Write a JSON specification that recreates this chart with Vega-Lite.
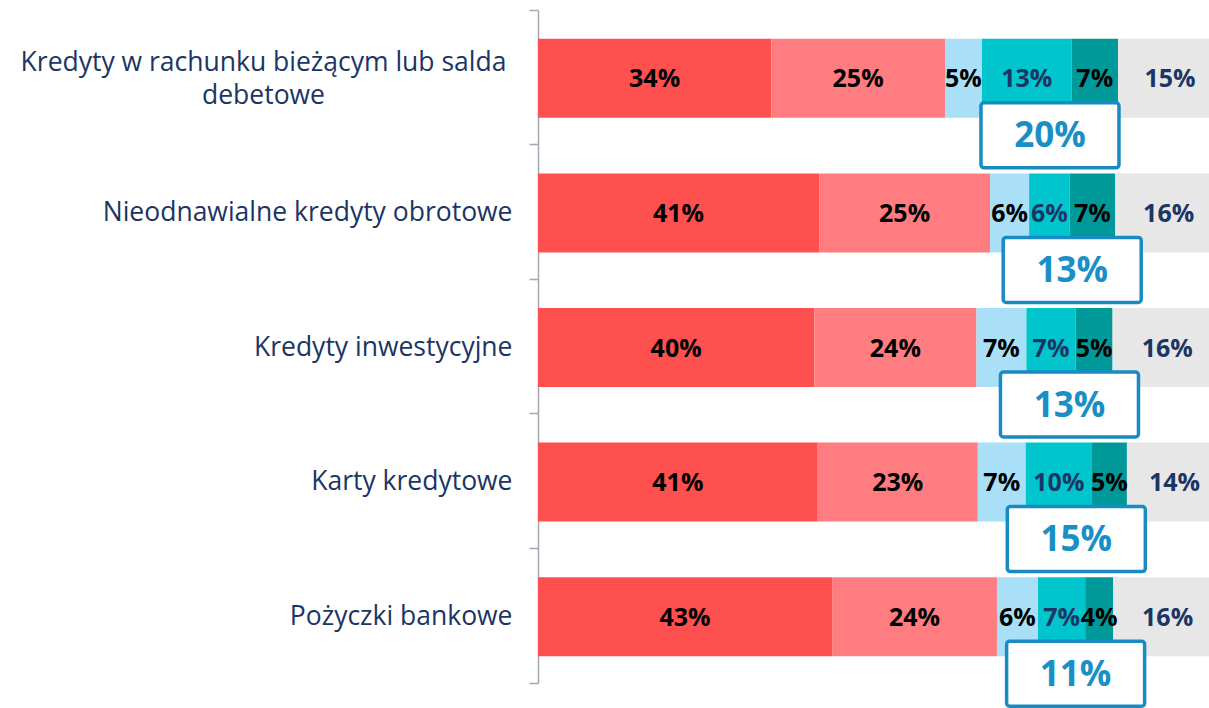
{
  "$schema": "https://vega.github.io/schema/vega-lite/v6.json",
  "width": 671,
  "height": 673,
  "autosize": "none",
  "padding": {"left": 538, "top": 10, "right": 0, "bottom": 25},
  "background": "white",
  "config": {"view": {"stroke": null}, "font": "Open Sans"},
  "data": {
    "values": [
      {"category": "Kredyty w rachunku bieżącym lub salda debetowe", "seg": "s1", "order": 1, "share": 0.341},
      {"category": "Kredyty w rachunku bieżącym lub salda debetowe", "seg": "s2", "order": 2, "share": 0.254},
      {"category": "Kredyty w rachunku bieżącym lub salda debetowe", "seg": "s3", "order": 3, "share": 0.054},
      {"category": "Kredyty w rachunku bieżącym lub salda debetowe", "seg": "s4", "order": 4, "share": 0.131},
      {"category": "Kredyty w rachunku bieżącym lub salda debetowe", "seg": "s5", "order": 5, "share": 0.068},
      {"category": "Kredyty w rachunku bieżącym lub salda debetowe", "seg": "s6", "order": 6, "share": 0.152},
      {"category": "Nieodnawialne kredyty obrotowe", "seg": "s1", "order": 1, "share": 0.411},
      {"category": "Nieodnawialne kredyty obrotowe", "seg": "s2", "order": 2, "share": 0.250},
      {"category": "Nieodnawialne kredyty obrotowe", "seg": "s3", "order": 3, "share": 0.057},
      {"category": "Nieodnawialne kredyty obrotowe", "seg": "s4", "order": 4, "share": 0.059},
      {"category": "Nieodnawialne kredyty obrotowe", "seg": "s5", "order": 5, "share": 0.067},
      {"category": "Nieodnawialne kredyty obrotowe", "seg": "s6", "order": 6, "share": 0.156},
      {"category": "Kredyty inwestycyjne", "seg": "s1", "order": 1, "share": 0.404},
      {"category": "Kredyty inwestycyjne", "seg": "s2", "order": 2, "share": 0.237},
      {"category": "Kredyty inwestycyjne", "seg": "s3", "order": 3, "share": 0.073},
      {"category": "Kredyty inwestycyjne", "seg": "s4", "order": 4, "share": 0.072},
      {"category": "Kredyty inwestycyjne", "seg": "s5", "order": 5, "share": 0.054},
      {"category": "Kredyty inwestycyjne", "seg": "s6", "order": 6, "share": 0.160},
      {"category": "Karty kredytowe", "seg": "s1", "order": 1, "share": 0.409},
      {"category": "Karty kredytowe", "seg": "s2", "order": 2, "share": 0.234},
      {"category": "Karty kredytowe", "seg": "s3", "order": 3, "share": 0.070},
      {"category": "Karty kredytowe", "seg": "s4", "order": 4, "share": 0.097},
      {"category": "Karty kredytowe", "seg": "s5", "order": 5, "share": 0.051},
      {"category": "Karty kredytowe", "seg": "s6", "order": 6, "share": 0.139},
      {"category": "Pożyczki bankowe", "seg": "s1", "order": 1, "share": 0.430},
      {"category": "Pożyczki bankowe", "seg": "s2", "order": 2, "share": 0.241},
      {"category": "Pożyczki bankowe", "seg": "s3", "order": 3, "share": 0.060},
      {"category": "Pożyczki bankowe", "seg": "s4", "order": 4, "share": 0.069},
      {"category": "Pożyczki bankowe", "seg": "s5", "order": 5, "share": 0.041},
      {"category": "Pożyczki bankowe", "seg": "s6", "order": 6, "share": 0.159}
    ]
  },
  "transform": [
    {"stack": "share", "groupby": ["category"], "sort": [{"field": "order", "order": "ascending"}], "as": ["s", "e"]}
  ],
  "encoding": {
    "y": {
      "field": "category",
      "type": "nominal",
      "sort": ["Kredyty w rachunku bieżącym lub salda debetowe", "Nieodnawialne kredyty obrotowe", "Kredyty inwestycyjne", "Karty kredytowe", "Pożyczki bankowe"],
      "scale": {"paddingInner": 0, "paddingOuter": 0},
      "axis": {
        "title": null,
        "bandPosition": 1,
        "tickExtra": true,
        "labelOffset": {"condition": {"test": "datum.value == 'Kredyty w rachunku bieżącym lub salda debetowe'", "value": -14}, "value": 1},
        "tickSize": 9,
        "tickWidth": 1.5,
        "domainWidth": 1.5,
        "tickColor": "#a6a6b0",
        "domainColor": "#a6a6b0",
        "labelFontSize": 26.5,
        "labelColor": "#1b3564",
        "labelPadding": {"condition": {"test": "datum.value == 'Kredyty w rachunku bieżącym lub salda debetowe'", "value": 266}, "value": 17},
        "labelAlign": {"condition": {"test": "datum.value == 'Kredyty w rachunku bieżącym lub salda debetowe'", "value": "center"}, "value": "right"},
        "labelLimit": 700,
        "labelLineHeight": 33,
        "labelExpr": "datum.value == 'Kredyty w rachunku bieżącym lub salda debetowe' ? ['Kredyty w rachunku bieżącym lub salda', 'debetowe'] : datum.value"
      }
    }
  },
  "layer": [
    {
      "mark": {"type": "bar", "height": 79, "yOffset": 1},
      "encoding": {
        "x": {"field": "s", "type": "quantitative", "scale": {"domain": [0, 0.981], "nice": false, "zero": true}, "axis": null},
        "x2": {"field": "e"},
        "color": {
          "field": "seg",
          "type": "nominal",
          "scale": {"domain": ["s1", "s2", "s3", "s4", "s5", "s6"], "range": ["#ff5050", "#ff7c80", "#a9e0f8", "#00c5cd", "#009999", "#e7e7e7"]},
          "legend": null
        }
      }
    },
    {
      "transform": [
        {"filter": "datum.seg != 's4' && datum.seg != 's6'"},
        {"fold": ["s", "e"], "as": ["k", "pos"]}
      ],
      "mark": {"type": "text", "fontSize": 25, "fontWeight": "bold", "color": "#000000", "baseline": "middle", "align": "center", "yOffset": 2},
      "encoding": {
        "x": {"aggregate": "mean", "field": "pos", "type": "quantitative"},
        "text": {"field": "share", "type": "quantitative", "format": ".0%"},
        "detail": {"field": "seg"}
      }
    },
    {
      "transform": [
        {"filter": "datum.seg == 's4' || datum.seg == 's6'"},
        {"fold": ["s", "e"], "as": ["k", "pos"]}
      ],
      "mark": {"type": "text", "fontSize": 25, "fontWeight": "bold", "color": "#1b3564", "baseline": "middle", "align": "center", "yOffset": 2},
      "encoding": {
        "x": {"aggregate": "mean", "field": "pos", "type": "quantitative"},
        "text": {"field": "share", "type": "quantitative", "format": ".0%"},
        "detail": {"field": "seg"}
      }
    },
    {
      "transform": [
        {"filter": "datum.seg == 's4' || datum.seg == 's5'"},
        {"aggregate": [
          {"op": "min", "field": "s", "as": "lo"},
          {"op": "max", "field": "e", "as": "hi"},
          {"op": "sum", "field": "share", "as": "total"}
        ], "groupby": ["category"]},
        {"fold": ["lo", "hi"], "as": ["k", "pos"]}
      ],
      "layer": [
        {
          "mark": {"type": "bar", "height": 65, "yOffset": 58, "xOffset": -69, "x2Offset": 69, "fill": "white", "stroke": "#1a8bc2", "strokeWidth": 3.5, "cornerRadius": 3},
          "encoding": {
            "x": {"aggregate": "mean", "field": "pos", "type": "quantitative"},
            "x2": {"aggregate": "mean", "field": "pos"},
            "detail": {"field": "total"}
          }
        },
        {
          "mark": {"type": "text", "fontSize": 35, "fontWeight": "bold", "color": "#1a8fc6", "baseline": "middle", "align": "center", "yOffset": 59},
          "encoding": {
            "x": {"aggregate": "mean", "field": "pos", "type": "quantitative"},
            "text": {"field": "total", "type": "quantitative", "format": ".0%"}
          }
        }
      ]
    }
  ]
}
